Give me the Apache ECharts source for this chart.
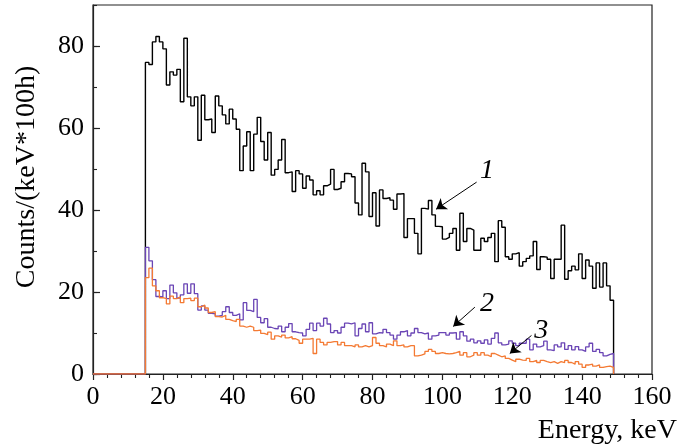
<!DOCTYPE html>
<html>
<head>
<meta charset="utf-8">
<script src="https://cdn.jsdelivr.net/npm/echarts@6/dist/echarts.min.js"></script>
<style>
html,body{margin:0;padding:0;background:#fff;}
#chart{width:680px;height:448px;}
</style>
</head>
<body>
<div id="chart"></div>
<script>
// Histogram bins: 1 keV wide, first bin starts at 15 keV
const binStart = 15;
const binWidth = 1;

// Curve 1 (black), counts per bin, 15..148 keV
const curve1 = [
  76, 75.5, 81, 82.3, 81, 79.3, 70.5, 73.7, 72.9, 74.3, 66.4, 81.9, 67.6, 65.4, 67.6, 57, 68, 62, 62.2, 58.9, 67.8, 65.4, 63.2, 61, 64.6, 62.2, 59.7,
  49.6, 55.6, 59.1, 49.6, 58.5, 62.6, 56.7, 52.2, 58.9, 48.5, 49.9, 52.2, 57.2, 49.1, 49.3, 44.5, 49.6, 48.8, 45.3, 48.3, 47.3, 43.7, 44.7, 43.7, 45.9, 46.3, 49.9, 45, 45.3, 46.9, 48.9, 48.8, 48.1,
  41.7, 38.8, 51.4, 49.3, 38.4, 44.2, 36.1, 44.9, 42.8, 43, 42.4, 40.2, 43.9, 44, 33.3, 37.9, 37.9, 34.3, 29.3, 40.4, 40.2, 42.3, 38.8, 36, 35.9, 32.9, 33.3, 34.3, 35.5, 30.2,
  39.2, 32.3, 35.5, 35.1, 30.2, 30.2, 33.1, 32.3, 33.3, 34.3, 27.4, 37.4, 35.8, 28.6, 28, 29.3, 29.6, 26.3, 27.4, 28.2, 28.8, 32.3, 25.5, 28.6, 28.5, 28, 23.3, 28, 28, 36.3, 23.1, 25.2, 26.3, 25.4, 29.3, 23.3, 27.8, 26.3, 20.9, 27.1, 21.2, 27.1, 21.5, 18
];

// Curve 2 (purple)
const curve2 = [
  30.9, 27.6, 23, 18.9, 18.8, 20.3, 18.4, 21.7, 19.8, 18.5, 19.3, 22, 19.7, 22, 19.6, 15.6, 16.6, 15.6, 14.8, 14.7, 14.1, 14.3, 15.2, 16.4, 15, 14.3, 14.7, 13.2, 17.4, 15.5, 15.2, 18.2, 13.8, 12.5, 13.5, 11.4, 11.1, 11, 11.7, 10.3, 11.4, 12.3, 10.3,
  10.1, 10, 9.3, 10.9, 12.4, 10.6, 12.4, 11.7, 13.6, 12.2, 10.1, 10.6, 10, 11.4, 12.4, 12.2, 12.5, 9.3, 11.1, 12.2, 10.3, 12.5, 9.8, 10.1, 10, 10.9, 10.1, 9.5, 8.5, 9.5, 10.3, 10.6, 9.3, 10, 11.1, 10.1, 9.8, 10, 8.5, 9.3, 9.5, 10.1, 10.1, 9.5, 10, 10.1, 8.5,
  10.3, 9.3, 8, 8.5, 7.6, 8.1, 7.5, 8.3, 7.3, 8.7, 10, 7.6, 7.1, 7.3, 8.1, 7.5, 6.9, 7.5, 7.5, 8.5, 5.9, 7.3, 6.6, 6.9, 8, 5.9, 5.7, 7.1, 6.6, 7.6, 6, 6.9, 5.9, 6.7, 5.9, 5.5, 6.6, 7.5, 5.5, 6, 5.2, 4.4, 4.8, 5
];

// Curve 3 (orange)
const curve3 = [
  23.5, 25.8, 21.5, 20.3, 18.6, 18.4, 17.1, 19, 18.4, 18.8, 17.4, 18.4, 18.5, 17.9, 18.5, 16.4, 16.8, 16.1, 15, 15.2, 14, 13.9, 14.3, 13.3, 13, 12.8, 13.3, 11.7, 11.4, 11.7, 11.4, 10.6, 10.7, 9.9, 9.6, 10.2, 8.5, 9.3, 9, 9.5, 8.8, 9.1, 8.6,
  8.2, 7.5, 8.5, 8.5, 8.7, 5, 8.5, 7.7, 7.1, 7.7, 7.9, 7.9, 7.1, 7.7, 6.9, 6.9, 6.6, 7.1, 6.6, 6.9, 6.6, 6.9, 8.9, 7.5, 6.9, 6.6, 7.3, 6.9, 8.1, 6.9, 7.1, 6.6, 6.9, 6.9, 4.4, 4.6, 4.9, 5.5, 6, 5.5, 5, 5.2, 5, 4.9, 5, 5.2, 5.5,
  4.6, 5.2, 4.2, 4.6, 5.2, 4.6, 5.2, 4.6, 4.2, 5, 4.6, 4.2, 4.4, 3.8, 3.4, 3, 3.6, 3.4, 3.3, 3.8, 3, 3.3, 2.8, 3.3, 3, 2.8, 3, 2.6, 3, 2.8, 3.3, 2.8, 2.4, 3, 2.4, 1.6, 2.2, 2.4, 1.9, 2.2, 1.6, 1.8, 1.9, 1.6
];

const xTicks = [0, 20, 40, 60, 80, 100, 120, 140, 160];
const yTicks = [0, 20, 40, 60, 80];
const curveLabels = ['1', '2', '3'];

function histPoints(values) {
  const pts = [[0, 0], [binStart, 0]];
  values.forEach((v, i) => pts.push([binStart + i * binWidth, v]));
  const end = binStart + values.length * binWidth;
  pts.push([end, values[values.length - 1]]);
  pts.push([end, 0]);
  return pts;
}

const FONT = '"Liberation Serif", "Times New Roman", serif';
const AX = '#222';

const chart = echarts.init(document.getElementById('chart'), null, {renderer: 'canvas'});

const arrowLine = { color: '#000', width: 1, type: 'solid' };
const labelStyle = { show: true, formatter: p => p.name, fontFamily: FONT, fontStyle: 'italic', fontSize: 28, color: '#000' };

chart.setOption({
  animation: false,
  backgroundColor: '#fff',
  grid: { left: 93, right: 25, top: 5, bottom: 74, show: true, borderColor: AX, borderWidth: 1.2, backgroundColor: 'transparent' },
  xAxis: {
    type: 'value', min: xTicks[0], max: xTicks[xTicks.length - 1], interval: 20,
    axisLine: { show: true, lineStyle: { color: AX, width: 1.2 } },
    axisTick: { show: true, inside: false, length: 6, lineStyle: { color: AX, width: 1.2 } },
    minorTick: { show: true, splitNumber: 5, length: 4, lineStyle: { color: AX, width: 1.1 } },
    splitLine: { show: false },
    axisLabel: { fontFamily: FONT, fontSize: 26, color: '#000', margin: 10 },
    name: 'Energy, keV', nameLocation: 'end', nameGap: 25,
    nameTextStyle: { fontFamily: FONT, fontSize: 28, color: '#000', align: 'right', verticalAlign: 'top', padding: [43, 0, 0, 0] }
  },
  yAxis: [{
    type: 'value', min: 0, max: 90, interval: 20,
    axisLine: { show: true, lineStyle: { color: AX, width: 1.2 } },
    axisTick: { show: true, inside: true, length: 7, lineStyle: { color: AX, width: 1.2 } },
    splitLine: { show: false },
    axisLabel: { fontFamily: FONT, fontSize: 26, color: '#000', margin: 9, showMaxLabel: false,
      formatter: v => (yTicks.indexOf(v) >= 0 ? String(v) : '') },
    name: 'Counts/(keV*100h)', nameLocation: 'middle', nameGap: 52, nameRotate: 90,
    nameTextStyle: { fontFamily: FONT, fontSize: 28, color: '#000', padding: [0, 0, 0, 25] }
  }, {
    type: 'value', min: 0, max: 90, interval: 10, position: 'left',
    axisLine: { show: false }, splitLine: { show: false }, axisLabel: { show: false },
    axisTick: { show: true, inside: true, length: 4, lineStyle: { color: AX, width: 1.1 } }
  }],
  series: [
    {
      name: 'curve1', type: 'line', step: 'end', data: histPoints(curve1), showSymbol: false, symbol: 'none',
      lineStyle: { color: '#000', width: 1.4 }, silent: true, z: 3,
      markLine: {
        silent: true, symbol: ['none', 'arrow'], symbolSize: 10, label: { show: false },
        lineStyle: arrowLine, emphasis: { disabled: true },
        data: [
          [{ coord: [109.8, 46.8] }, { coord: [98.2, 40.2] }],
          [{ coord: [109.3, 16.3] }, { coord: [103.1, 11.6] }],
          [{ coord: [125.5, 9.4] }, { coord: [119.3, 5.0] }]
        ]
      },
      markPoint: {
        silent: true, symbol: 'circle', symbolSize: 0, label: labelStyle,
        data: [
          { name: curveLabels[0], coord: [112.8, 49.6] },
          { name: curveLabels[1], coord: [112.8, 17.2] },
          { name: curveLabels[2], coord: [128.3, 10.6] }
        ]
      }
    },
    {
      name: 'curve2', type: 'line', step: 'end', data: histPoints(curve2), showSymbol: false, symbol: 'none',
      lineStyle: { color: '#6a45b5', width: 1.3 }, silent: true, z: 4
    },
    {
      name: 'curve3', type: 'line', step: 'end', data: histPoints(curve3), showSymbol: false, symbol: 'none',
      lineStyle: { color: '#f47a33', width: 1.3 }, silent: true, z: 5
    }
  ]
});
</script>
</body>
</html>
